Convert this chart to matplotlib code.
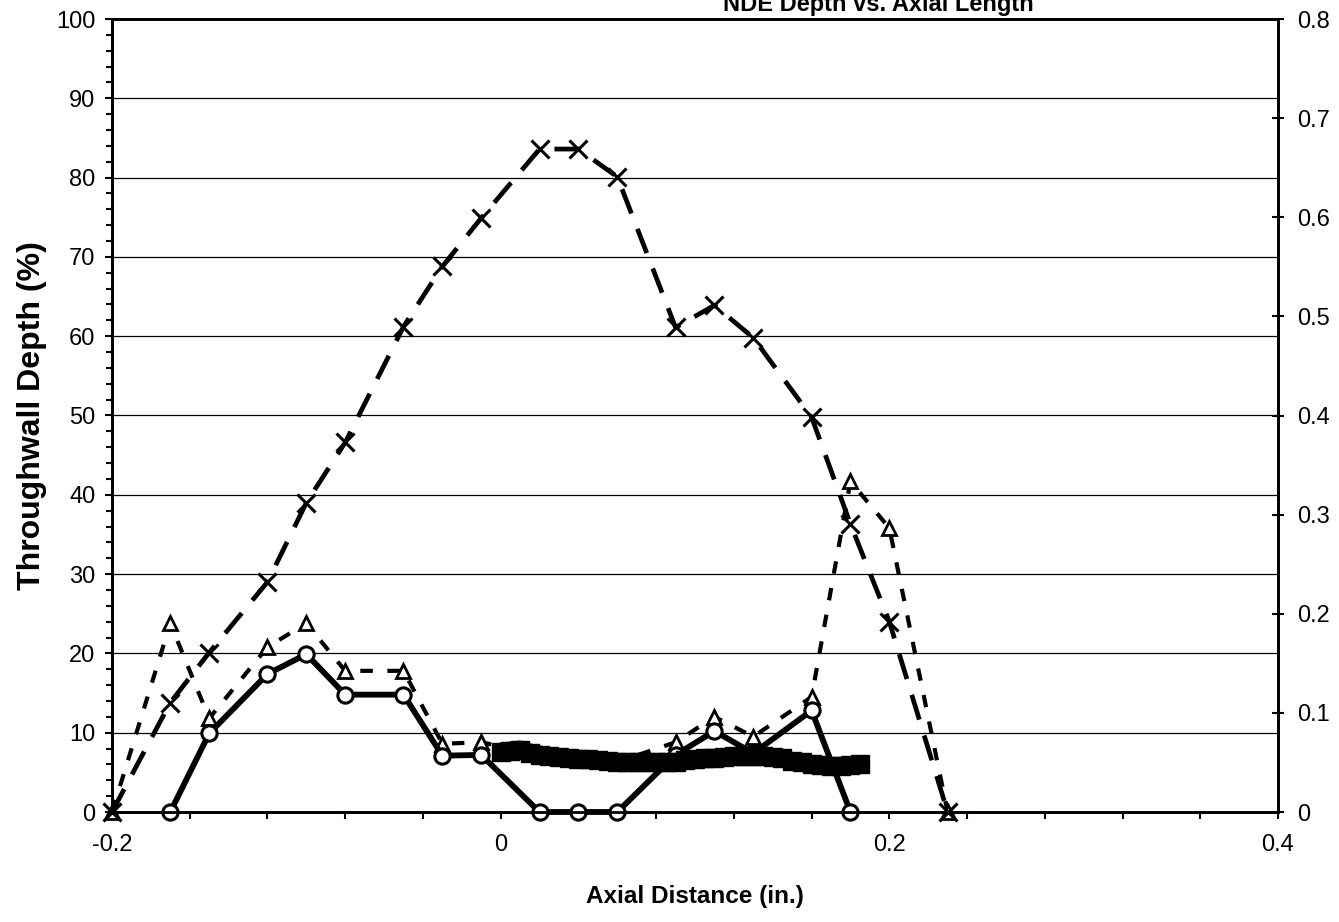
import numpy as np
import matplotlib.pyplot as plt
from matplotlib.ticker import MultipleLocator

plt.rcParams['font.family'] = ['Liberation Sans', 'DejaVu Sans']
plt.rcParams['axes.unicode_minus'] = False

# axial positions (in.) of the NDE readings
axial = [-0.20, -0.17, -0.15, -0.12, -0.10, -0.08, -0.05, -0.03, -0.01,
         0.02, 0.04, 0.06, 0.09, 0.11, 0.13, 0.16, 0.18, 0.20, 0.23]
depth_x = [0, 13.8, 20.1, 29.0, 39.0, 46.6, 61.2, 68.8, 74.9,
           83.6, 83.6, 80.1, 61.1, 63.9, 59.8, 49.8, 36.3, 24.0, 0]
depth_tri = [0, 23.8, 11.8, 20.8, 23.8, 17.8, 17.8, 8.6, 8.8,
             7.2, 6.6, 6.3, 8.8, 12.0, 9.5, 14.5, 41.7, 35.8, 0]

axial_circ = [-0.17, -0.15, -0.12, -0.10, -0.08, -0.05, -0.03, -0.01,
              0.02, 0.04, 0.06, 0.09, 0.11, 0.13, 0.16, 0.18]
depth_circ = [0, 9.9, 17.4, 19.9, 14.8, 14.8, 7.1, 7.2,
              0, 0, 0, 7.2, 10.2, 7.4, 12.8, 0]

# dense profile plotted against the right-hand scale
axial_prof = [0.000, 0.005, 0.010, 0.015, 0.020, 0.025, 0.030, 0.035, 0.040,
              0.045, 0.050, 0.055, 0.060, 0.065, 0.070, 0.075, 0.080, 0.085,
              0.090, 0.095, 0.100, 0.105, 0.110, 0.115, 0.120, 0.125, 0.130,
              0.135, 0.140, 0.145, 0.150, 0.155, 0.160, 0.165, 0.170, 0.175,
              0.180, 0.185]
prof = [0.061, 0.062, 0.063, 0.060, 0.058, 0.056, 0.055, 0.054, 0.053,
        0.053, 0.052, 0.051, 0.050, 0.050, 0.050, 0.050, 0.050, 0.050,
        0.050, 0.052, 0.053, 0.054, 0.054, 0.055, 0.056, 0.056, 0.056,
        0.056, 0.055, 0.054, 0.051, 0.050, 0.048, 0.047, 0.046, 0.046,
        0.047, 0.048]

x_ticks = [-0.2, 0, 0.2, 0.4]
x_labels = ['-0.2', '0', '0.2', '0.4']
left_ticks = list(range(0, 101, 10))
right_ticks = [0, 0.1, 0.2, 0.3, 0.4, 0.5, 0.6, 0.7, 0.8]
right_labels = ['0', '0.1', '0.2', '0.3', '0.4', '0.5', '0.6', '0.7', '0.8']

fig = plt.figure(figsize=(13.39, 9.22), dpi=100)
ax = fig.add_axes([112 / 1339, 1 - 812 / 922, 1166 / 1339, 793 / 922])

ax.set_xlim(-0.2, 0.4)
ax.set_ylim(0, 100)
ax.set_yticks(left_ticks)
ax.set_yticklabels([str(t) for t in left_ticks])
ax.set_xticks(x_ticks)
ax.set_xticklabels(x_labels)
ax.xaxis.set_minor_locator(MultipleLocator(0.04))
ax.yaxis.set_minor_locator(MultipleLocator(2))
ax.grid(axis='y', which='major', color='black', lw=0.9, zorder=0)
ax.set_axisbelow(True)

ax.tick_params(axis='both', which='both', direction='out', labelsize=17,
               colors='black', width=1.5)
ax.tick_params(axis='y', which='major', length=5, pad=7)
ax.tick_params(axis='y', which='minor', length=4)
ax.tick_params(axis='x', which='both', length=5, pad=11)
for s in ax.spines.values():
    s.set_linewidth(2)
    s.set_color('black')

# X markers, long dashes
lx, = ax.plot(axial, depth_x, color='black', lw=3.4, marker='x', ms=13, mew=2.2,
              clip_on=False, zorder=5)
lx.set_dashes((5.5, 3.5))

# open triangles, short dashes
lt, = ax.plot(axial, depth_tri, color='black', lw=3, marker='^', ms=10, mew=2,
              mfc='white', mec='black', clip_on=False, zorder=3)
lt.set_dashes((3, 3.5))

# open circles, solid line
ax.plot(axial_circ, depth_circ, color='black', lw=4.2, marker='o', ms=11, mew=2.2,
        mfc='white', mec='black', clip_on=False, zorder=4)

ax.set_ylabel('Throughwall Depth (%)', fontsize=23, fontweight='bold')
ax.yaxis.set_label_coords(-0.056, 0.5)
ax.set_xlabel('Axial Distance (in.)', fontsize=17.5, fontweight='bold')
ax.xaxis.set_label_coords(0.5, -0.092)

ax2 = ax.twinx()
ax2.set_ylim(0, 0.8)
ax2.set_yticks(right_ticks)
ax2.set_yticklabels(right_labels)
ax2.tick_params(axis='y', direction='inout', length=9, width=1.5, pad=9,
                labelsize=17, colors='black')
for s in ax2.spines.values():
    s.set_linewidth(2)
ax2.plot(axial_prof, prof, color='black', lw=13, marker='s', ms=12.5,
         mfc='black', mec='black', solid_capstyle='butt')

fig.text(878 / 1339, 1 - 11 / 922, 'NDE Depth vs. Axial Length', ha='center',
         va='baseline', fontsize=17, fontweight='bold')

fig.savefig('out.png', dpi=100)
